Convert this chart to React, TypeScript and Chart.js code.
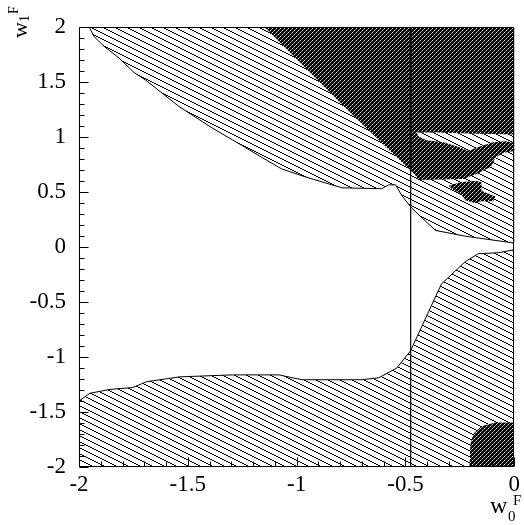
import React, { useEffect, useRef } from "react";
import { Chart, registerables } from "chart.js";

Chart.register(...registerables);

// Axis ranges and tick labels
const xRange: [number, number] = [-2, 0];
const yRange: [number, number] = [-2, 2];
const xTickStep = 0.5;
const yTickStep = 0.5;
const minorStep = 0.1;

// Upper hatched (excluded) region: boundary from top-left down to right edge, then top-right corner
const upperHatch: [number, number][] = [
  [-1.954, 2.0], [-1.931, 1.912], [-1.886, 1.824], [-1.817, 1.718], [-1.748, 1.586],
  [-1.693, 1.515], [-1.542, 1.278], [-1.391, 1.084], [-1.254, 0.925], [-1.158, 0.811],
  [-1.07, 0.71], [-0.96, 0.636], [-0.792, 0.537], [-0.609, 0.529], [-0.577, 0.564],
  [-0.545, 0.564], [-0.517, 0.467], [-0.471, 0.352], [-0.362, 0.15], [-0.224, 0.097],
  [0.0, 0.035], [0.0, 2.0],
];

// Lower hatched region: boundary from right edge going left, then bottom corners
const lowerHatch: [number, number][] = [
  [0.0, -0.026], [-0.073, -0.053], [-0.165, -0.062], [-0.224, -0.132], [-0.334, -0.335],
  [-0.394, -0.59], [-0.476, -0.943], [-0.54, -1.101], [-0.622, -1.189], [-0.7, -1.207],
  [-0.975, -1.207], [-1.021, -1.189], [-1.08, -1.163], [-1.295, -1.163], [-1.538, -1.181],
  [-1.597, -1.198], [-1.689, -1.225], [-1.753, -1.278], [-1.858, -1.295], [-1.95, -1.33],
  [-2.0, -1.4], [-2.0, -2.0], [0.0, -2.0],
];

// Dark (solid) region at the top right, with the hatched notch cut in
const darkTop: [number, number][] = [
  [-1.149, 2.0], [0.0, 2.0], [0.0, 1.022], [-0.211, 1.031], [-0.348, 1.04],
  [-0.449, 1.04], [-0.439, 1.004], [-0.403, 0.969], [-0.325, 0.952], [-0.256, 0.907],
  [-0.211, 0.872], [-0.165, 0.907], [-0.096, 0.952], [-0.037, 0.96], [0.0, 0.943],
  [0.0, 0.872], [-0.05, 0.855], [-0.087, 0.811], [-0.105, 0.731], [-0.165, 0.67],
  [-0.233, 0.617], [-0.439, 0.608], [-0.458, 0.661], [-0.76, 1.233],
];

// Small dark island
const darkStar: [number, number][] = [
  [-0.302, 0.555], [-0.243, 0.59], [-0.178, 0.599], [-0.151, 0.59], [-0.151, 0.511],
  [-0.087, 0.458], [-0.096, 0.414], [-0.151, 0.414], [-0.178, 0.396], [-0.224, 0.423],
  [-0.247, 0.485], [-0.288, 0.529],
];

// Dark corner at the bottom right
const darkCorner: [number, number][] = [
  [0.0, -1.595], [-0.087, -1.595], [-0.151, -1.63], [-0.188, -1.7], [-0.201, -1.79],
  [-0.206, -2.0], [0.0, -2.0],
];

// Vertical cut line
const cutLineX = -0.476;

const pts = (a: [number, number][]) => a.map(([x, y]) => ({ x, y }));

function makeHatch(): CanvasPattern | string {
  const c = document.createElement("canvas");
  c.width = 12;
  c.height = 6;
  const g = c.getContext("2d");
  if (!g) return "#888";
  g.fillStyle = "#ffffff";
  g.fillRect(0, 0, 12, 6);
  g.fillStyle = "#000000";
  for (let i = 0; i < 12; i++) g.fillRect(i, Math.floor(i / 2), 1, 1);
  return g.createPattern(c, "repeat") || "#888";
}

function makeDark(): CanvasPattern | string {
  const c = document.createElement("canvas");
  c.width = 4;
  c.height = 4;
  const g = c.getContext("2d");
  if (!g) return "#222";
  g.fillStyle = "#000000";
  g.fillRect(0, 0, 4, 4);
  g.fillStyle = "#e0e0e0";
  g.fillRect(0, 0, 1, 1);
  g.fillRect(2, 2, 1, 1);
  g.fillStyle = "#8a8a8a";
  g.fillRect(1, 3, 1, 1);
  g.fillRect(3, 1, 1, 1);
  return g.createPattern(c, "repeat") || "#222";
}

const SERIF = '"Liberation Serif", "Times New Roman", serif';

const fmt = (v: number | string) => {
  const n = Math.round(Number(v) * 10) / 10;
  return String(n);
};

const decor = {
  id: "decor",
  afterDraw(chart: any) {
    const { ctx, chartArea: a, scales } = chart;
    const xs = scales.x;
    const ys = scales.y;
    ctx.save();
    ctx.strokeStyle = "#000";
    ctx.lineWidth = 1;
    const L = Math.round(a.left) + 0.5;
    const R = Math.round(a.right) - 0.5;
    const T = Math.round(a.top) + 0.5;
    const B = Math.round(a.bottom) - 0.5;
    ctx.beginPath();
    ctx.rect(L, T, R - L, B - T);
    ctx.stroke();
    // inward ticks
    ctx.beginPath();
    const ny = Math.round((yRange[1] - yRange[0]) / minorStep);
    for (let i = 0; i <= ny; i++) {
      const v = yRange[0] + i * minorStep;
      const major = i % Math.round(yTickStep / minorStep) === 0;
      const py = Math.round(ys.getPixelForValue(v)) + 0.5;
      ctx.moveTo(L, py);
      ctx.lineTo(L + (major ? 9 : 5), py);
    }
    const nx = Math.round((xRange[1] - xRange[0]) / minorStep);
    for (let i = 0; i <= nx; i++) {
      const v = xRange[0] + i * minorStep;
      const major = i % Math.round(xTickStep / minorStep) === 0;
      const px = Math.round(xs.getPixelForValue(v)) + 0.5;
      ctx.moveTo(px, B);
      ctx.lineTo(px, B - (major ? 9 : 5));
    }
    ctx.stroke();

    // axis titles
    ctx.fillStyle = "#000";
    ctx.textBaseline = "alphabetic";
    ctx.textAlign = "left";
    ctx.font = `24px ${SERIF}`;
    ctx.fillText("w", 490, 513);
    ctx.font = `15px ${SERIF}`;
    ctx.fillText("0", 508, 521);
    ctx.fillText("F", 513, 505);

    ctx.translate(27, 38);
    ctx.rotate(-Math.PI / 2);
    ctx.font = `22px ${SERIF}`;
    ctx.fillText("w", 0, 0);
    ctx.font = `14px ${SERIF}`;
    ctx.fillText("1", 16, 2);
    ctx.fillText("F", 24, -9);
    ctx.restore();
  },
};

export default function App() {
  const ref = useRef<HTMLCanvasElement | null>(null);

  useEffect(() => {
    if (!ref.current) return;
    const hatch = makeHatch();
    const dark = makeDark();
    const region = (label: string, data: [number, number][], bg: any, line: boolean, order: number) => ({
      label,
      data: pts(data),
      showLine: true,
      fill: "shape" as any,
      backgroundColor: bg,
      borderColor: line ? "#000" : "rgba(0,0,0,0)",
      borderWidth: line ? 1 : 0,
      pointRadius: 0,
      order,
    });
    const chart = new Chart(ref.current, {
      type: "scatter",
      data: {
        datasets: [
          region("upper excluded", upperHatch, hatch, true, 5),
          region("lower excluded", lowerHatch, hatch, true, 5),
          region("dark top", darkTop, dark, false, 3),
          region("dark island", darkStar, dark, false, 3),
          region("dark corner", darkCorner, dark, false, 3),
          {
            label: "cut",
            data: [
              { x: cutLineX, y: yRange[0] },
              { x: cutLineX, y: yRange[1] },
            ],
            showLine: true,
            fill: false,
            borderColor: "#000",
            borderWidth: 1.2,
            pointRadius: 0,
            order: 1,
          } as any,
        ],
      },
      options: {
        animation: false,
        responsive: true,
        maintainAspectRatio: false,
        layout: { padding: { top: 13, right: 8, left: 0, bottom: 0 } },
        plugins: { legend: { display: false }, tooltip: { enabled: false } },
        scales: {
          x: {
            type: "linear",
            min: xRange[0],
            max: xRange[1],
            grid: { display: false, drawTicks: false },
            border: { display: false },
            ticks: {
              stepSize: xTickStep,
              color: "#000",
              padding: 4,
              maxRotation: 0,
              font: { family: SERIF, size: 23 },
              callback: fmt,
            },
            afterFit: (s: any) => {
              s.height = 58;
            },
          },
          y: {
            type: "linear",
            min: yRange[0],
            max: yRange[1],
            grid: { display: false, drawTicks: false },
            border: { display: false },
            ticks: {
              stepSize: yTickStep,
              color: "#000",
              padding: 13,
              font: { family: SERIF, size: 23 },
              callback: fmt,
            },
            afterFit: (s: any) => {
              s.width = 79;
            },
          },
        },
      },
      plugins: [decor],
    });
    return () => chart.destroy();
  }, []);

  return (
    <div style={{ position: "fixed", left: 0, top: 0, width: 524, height: 525, background: "#fff" }}>
      <canvas ref={ref} />
    </div>
  );
}
